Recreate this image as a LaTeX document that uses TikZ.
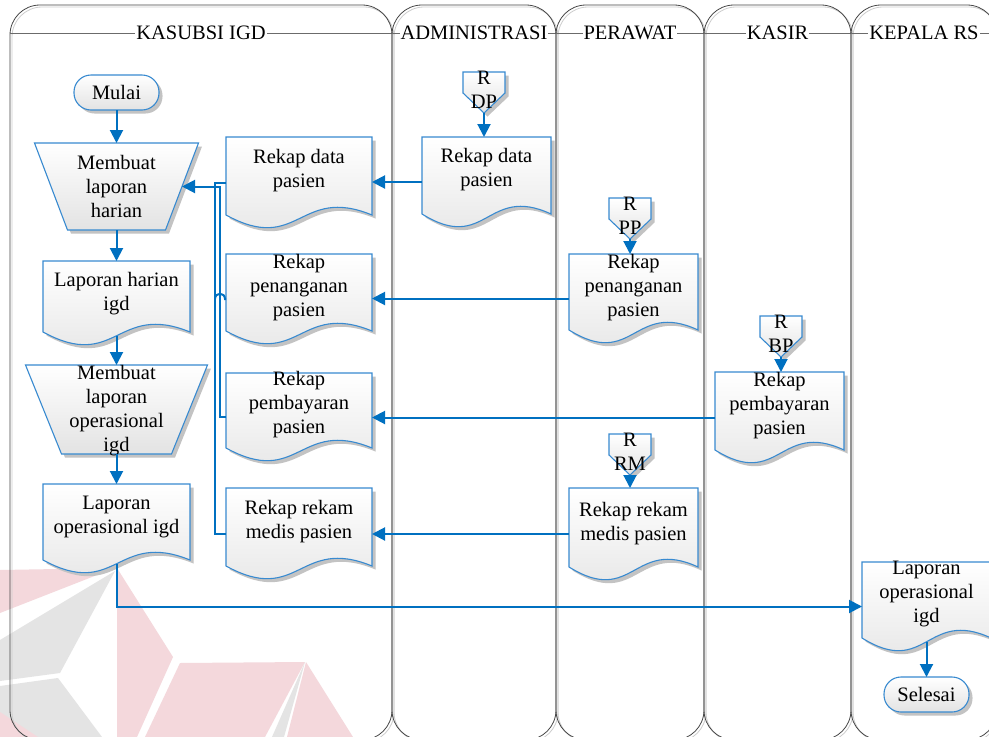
\documentclass[tikz,border=0pt]{standalone}
\usepackage{fontspec}
\setmainfont{Liberation Serif}
\newfontfamily\diagfont{Liberation Serif}
\usetikzlibrary{arrows.meta,calc}
\pgfdeclarelayer{wm}
\pgfdeclarelayer{lanes}
\pgfdeclarelayer{shapes}
\pgfsetlayers{wm,lanes,shapes,main}

\definecolor{flowblue}{RGB}{0,112,192}
\definecolor{edgeblue}{RGB}{56,138,208}
\definecolor{lanegray}{RGB}{70,70,70}
\definecolor{laneshade}{RGB}{205,205,205}
\definecolor{shadowgray}{RGB}{195,195,195}
\definecolor{wmpink}{RGB}{244,216,220}
\definecolor{wmgray}{RGB}{228,228,228}

\tikzset{
  anchorbox/.style={rectangle, draw=none, inner sep=0pt, outer sep=0pt},
  boxtext/.style={inner sep=0pt, align=center, font=\diagfont\fontsize{20.5}{24}\selectfont, text=black},
  shapeline/.style={draw=edgeblue, line width=1.1pt, top color=white, bottom color=black!11},
  shapeshadow/.style={fill=shadowgray, draw=none, transform canvas={shift={(3.5pt,-3.5pt)}}},
  flow/.style={draw=flowblue, line width=2pt, -{Triangle[length=13pt,width=13pt]}},
  bus/.style={draw=flowblue, line width=2pt},
  lane/.style={draw=lanegray, line width=0.8pt, rounded corners=30pt},
  laneshadow/.style={draw=laneshade, line width=0.8pt, rounded corners=30pt, transform canvas={shift={(2pt,-2pt)}}},
  lanehead/.style={draw=lanegray!80, line width=0.8pt},
  lanetitle/.style={fill=white, inner xsep=1pt, inner ysep=2pt, font=\diagfont\fontsize{20.5}{24}\selectfont},
}

% document symbol: flat top, wavy bottom
\newcommand\docpath[2]{\path[#1] (#2.north west) -- (#2.north east) -- ([yshift=13pt]#2.south east)
  .. controls ([yshift=43pt]#2.south) and ([yshift=-27pt]#2.south) .. ([yshift=13pt]#2.south west) -- cycle;}
% manual operation: trapezoid, node box is the mid-height width
\newcommand\trappath[3]{\path[#1] ([xshift=-#3]#2.north west) -- ([xshift=#3]#2.north east)
  -- ([xshift=-#3]#2.south east) -- ([xshift=#3]#2.south west) -- cycle;}
% off-page reference
\newcommand\offpath[2]{\path[#1] (#2.north west) -- (#2.north east) -- ([yshift=20pt]#2.south east)
  -- (#2.south) -- ([yshift=20pt]#2.south west) -- cycle;}
% terminator
\newcommand\termpath[2]{\path[#1, rounded corners=17pt] (#2.north west) rectangle (#2.south east);}

\newcommand\docshape[1]{\docpath{shapeshadow}{#1}\docpath{shapeline}{#1}}
\newcommand\trapshape[2]{\trappath{shapeshadow}{#1}{#2}\trappath{shapeline}{#1}{#2}}
\newcommand\offshape[1]{\offpath{shapeshadow}{#1}\offpath{shapeline}{#1}}
\newcommand\termshape[1]{\termpath{shapeshadow}{#1}\termpath{shapeline}{#1}}

\begin{document}
\begin{tikzpicture}[x=1pt,y=-1pt]
\useasboundingbox (0,0) rectangle (989,737);

% ---------- background and faint logo ----------
\begin{pgfonlayer}{wm}
  \fill[white] (0,0) rectangle (989,737);
  \fill[wmpink] (0,570) -- (115,568) -- (0,613) -- cycle;
  \fill[wmgray] (0,640) -- (115,571) -- (60,673) -- (0,681) -- cycle;
  \fill[wmgray] (0,686) -- (58,678) -- (102,737) -- (0,737) -- cycle;
  \fill[wmpink] (0,712) -- (38,737) -- (0,737) -- cycle;
  \fill[wmpink] (117,568) -- (173,657) -- (137,737) -- (117,737) -- cycle;
  \fill[wmpink] (180,663) -- (305,662) -- (265,737) -- (145,737) -- cycle;
  \fill[wmgray] (305,662) -- (272,737) -- (284,737) -- cycle;
  \fill[wmpink] (306,662) -- (353,737) -- (287,737) -- cycle;
\end{pgfonlayer}

% ---------- swimlanes ----------
\begin{pgfonlayer}{lanes}
  \foreach \a/\b in {10/392, 392/556, 556/704, 704/851, 851/997} {
    \draw[laneshadow] (\a,5) rectangle (\b,740);
    \draw[lane] (\a,5) rectangle (\b,740);
    \draw[lanehead] (\a,33) -- (\b,33);
  }
\end{pgfonlayer}
\node[lanetitle] (lane1) at (201,33) {KASUBSI IGD};
\node[lanetitle] (lane2) at (474,33) {ADMINISTRASI};
\node[lanetitle] (lane3) at (630,33) {PERAWAT};
\node[lanetitle] (lane4) at (777.5,33) {KASIR};
\node[lanetitle] (lane5) at (924,33) {KEPALA RS};

% ---------- shape boxes ----------
\node[anchorbox, minimum width=85, minimum height=35] (mulai) at (116.5,92.5) {};
\node[anchorbox, minimum width=85, minimum height=35] (selesai) at (926.5,694.5) {};

\node[anchorbox, minimum width=131, minimum height=87] (mlh) at (116.5,186.5) {};
\node[anchorbox, minimum width=146, minimum height=89] (mlo) at (116.5,409.5) {};

\node[anchorbox, minimum width=147, minimum height=84] (lhi) at (116.5,303) {};
\node[anchorbox, minimum width=147, minimum height=89] (loi) at (116.5,528.5) {};
\node[anchorbox, minimum width=146, minimum height=91] (rdl) at (299,182.5) {};
\node[anchorbox, minimum width=146, minimum height=90] (rpl) at (299,299) {};
\node[anchorbox, minimum width=146, minimum height=88] (rbl) at (299,417) {};
\node[anchorbox, minimum width=146, minimum height=91] (rml) at (299,533.5) {};
\node[anchorbox, minimum width=129, minimum height=90] (rda) at (486.5,182) {};
\node[anchorbox, minimum width=129, minimum height=89] (rpp) at (633.5,298.5) {};
\node[anchorbox, minimum width=129, minimum height=91] (rbk) at (779.5,417.5) {};
\node[anchorbox, minimum width=129, minimum height=92] (rmp) at (633.5,534) {};
\node[anchorbox, minimum width=129, minimum height=89] (lok) at (926.5,606.5) {};

\node[anchorbox, minimum width=42, minimum height=41] (odp) at (484,92.5) {};
\node[anchorbox, minimum width=42, minimum height=41] (opp) at (630,218.5) {};
\node[anchorbox, minimum width=42, minimum height=41] (obp) at (781,336.5) {};
\node[anchorbox, minimum width=42, minimum height=41] (orm) at (630,454.5) {};

\begin{pgfonlayer}{shapes}
  \termshape{mulai}
  \termshape{selesai}
  \trapshape{mlh}{16.5pt}
  \trapshape{mlo}{18pt}
  \docshape{lhi}\docshape{loi}
  \docshape{rdl}\docshape{rpl}\docshape{rbl}\docshape{rml}
  \docshape{rda}\docshape{rpp}\docshape{rbk}\docshape{rmp}
  \docshape{lok}
  \offshape{odp}\offshape{opp}\offshape{obp}\offshape{orm}
\end{pgfonlayer}

% ---------- texts ----------
\node[boxtext] (mulai-t) at (mulai.center) {Mulai};
\node[boxtext] (selesai-t) at (selesai.center) {Selesai};
\node[boxtext] (mlh-t) at (mlh.center) {Membuat\\laporan\\harian};
\node[boxtext] (mlo-t) at ([yshift=-1.5pt]mlo.center) {Membuat\\laporan\\operasional\\igd};
\node[boxtext] (lhi-t) at ([yshift=9.5pt]lhi.center) {Laporan harian\\igd};
\node[boxtext] (loi-t) at ([yshift=12pt]loi.center) {Laporan\\operasional igd};
\node[boxtext] (rdl-t) at ([yshift=12pt]rdl.center) {Rekap data\\pasien};
\node[boxtext] (rpl-t) at ([yshift=11pt]rpl.center) {Rekap\\penanganan\\pasien};
\node[boxtext] (rbl-t) at ([yshift=12pt]rbl.center) {Rekap\\pembayaran\\pasien};
\node[boxtext] (rml-t) at ([yshift=12pt]rml.center) {Rekap rekam\\medis pasien};
\node[boxtext] (rda-t) at ([yshift=12pt]rda.center) {Rekap data\\pasien};
\node[boxtext] (rpp-t) at ([yshift=10.5pt]rpp.center) {Rekap\\penanganan\\pasien};
\node[boxtext] (rbk-t) at ([yshift=11.5pt]rbk.center) {Rekap\\pembayaran\\pasien};
\node[boxtext] (rmp-t) at ([yshift=10.5pt]rmp.center) {Rekap rekam\\medis pasien};
\node[boxtext] (lok-t) at ([yshift=12.5pt]lok.center) {Laporan\\operasional\\igd};
\node[boxtext] (odp-t) at ([yshift=2.5pt]odp.center) {R\\DP};
\node[boxtext] (opp-t) at ([yshift=3pt]opp.center) {R\\PP};
\node[boxtext] (obp-t) at ([yshift=2.5pt]obp.center) {R\\BP};
\node[boxtext] (orm-t) at ([yshift=2.5pt]orm.center) {R\\RM};

% ---------- connectors ----------
\coordinate (busA) at (215,0);
\coordinate (busB) at (220,0);

\draw[flow] (mulai.south) -- (mlh.north);
\draw[flow] (mlh.south) -- (lhi.north);
\draw[flow] ([yshift=9pt]lhi.south) -- (mlo.north);
\draw[flow] (mlo.south) -- (loi.north);
\draw[flow] ([yshift=9pt]loi.south) |- (lok.west);
\draw[flow] ([yshift=9pt]lok.south) -- (selesai.north);

\draw[flow] (odp.south) -- (odp.south |- rda.north);
\draw[flow] (opp.south) -- (opp.south |- rpp.north);
\draw[flow] (obp.south) -- (obp.south |- rbk.north);
\draw[flow] (orm.south) -- (orm.south |- rmp.north);

\draw[flow] (rda.west) -- (rda.west -| rdl.east);
\draw[flow] (rpp.west) -- (rpp.west -| rpl.east);
\draw[flow] (rbk.west) -- (rbk.west -| rbl.east);
\draw[flow] (rmp.west) -- (rmp.west -| rml.east);

\draw[bus] (rdl.west) -- (rdl.west -| busA) -- (rml.west -| busA) -- (rml.west);
\draw[flow] (rbl.west) -- (rbl.west -| busB) -- (mlh.east -| busB) -- (mlh.east);
\draw[bus] (rpl.west) -- ([xshift=5pt]rpl.west -| busB)
  .. controls +(0,-7) and +(0,-7) .. (rpl.west -| busA);
\end{tikzpicture}
\end{document}
